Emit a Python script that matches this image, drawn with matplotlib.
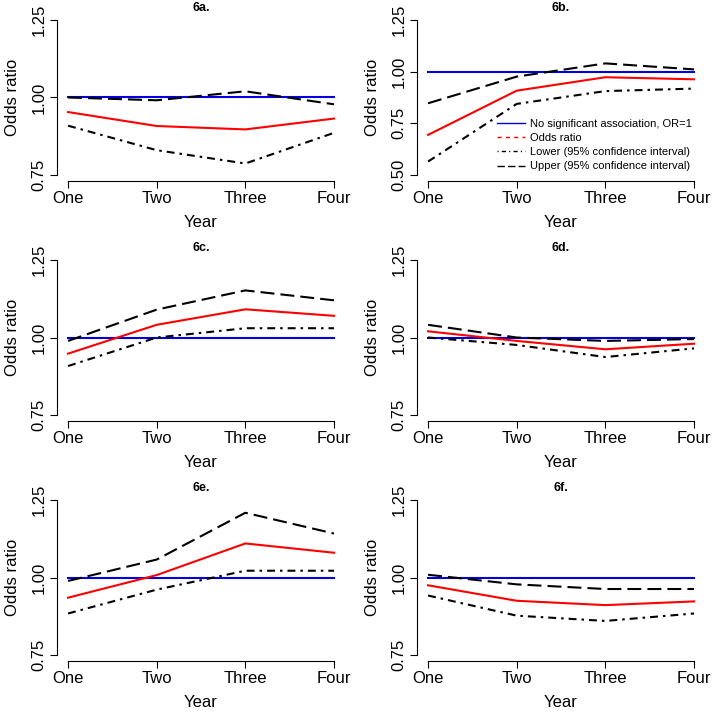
"""
Odds ratio by year, six panels (6a-6f), R base-graphics look.
"""

import matplotlib
matplotlib.use("Agg")
import matplotlib.pyplot as plt
from matplotlib.lines import Line2D

plt.rcParams["font.family"] = ["Liberation Sans", "DejaVu Sans"]

years = ["One", "Two", "Three", "Four"]
x = [1, 2, 3, 4]

panel_titles = ["6a.", "6b.", "6c.", "6d.", "6e.", "6f."]

# odds ratio (red), lower / upper 95% CI (black)
or_a    = [0.953, 0.908, 0.897, 0.932]
lower_a = [0.909, 0.830, 0.787, 0.886]
upper_a = [1.000, 0.991, 1.020, 0.978]

or_b    = [0.694, 0.908, 0.973, 0.963]
lower_b = [0.565, 0.844, 0.906, 0.918]
upper_b = [0.847, 0.976, 1.040, 1.011]

or_c    = [0.948, 1.041, 1.091, 1.070]
lower_c = [0.908, 1.000, 1.030, 1.030]
upper_c = [0.989, 1.090, 1.152, 1.120]

or_d    = [1.020, 0.989, 0.962, 0.980]
lower_d = [1.000, 0.976, 0.937, 0.965]
upper_d = [1.041, 1.000, 0.989, 0.995]

or_e    = [0.935, 1.008, 1.110, 1.080]
lower_e = [0.884, 0.961, 1.022, 1.022]
upper_e = [0.989, 1.058, 1.209, 1.142]

or_f    = [0.975, 0.925, 0.911, 0.923]
lower_f = [0.942, 0.877, 0.860, 0.884]
upper_f = [1.009, 0.978, 0.963, 0.963]

panels = [
    (or_a, lower_a, upper_a, [0.75, 1.00, 1.25]),
    (or_b, lower_b, upper_b, [0.50, 0.75, 1.00, 1.25]),
    (or_c, lower_c, upper_c, [0.75, 1.00, 1.25]),
    (or_d, lower_d, upper_d, [0.75, 1.00, 1.25]),
    (or_e, lower_e, upper_e, [0.75, 1.00, 1.25]),
    (or_f, lower_f, upper_f, [0.75, 1.00, 1.25]),
]

BLUE = "#0000e0"
RED = "#ff0000"
LW = 1.5
UPPER_DASH = (6.7, 2.9)
LOWER_DASH = (3.8, 2.4, 1.2, 2.4)

fig = plt.figure(figsize=(7.15, 7.15), dpi=100)

lefts = [0.0803, 0.5838]
bottoms = [0.7466, 0.4109, 0.0752]
w, h = 0.4017, 0.2341

axes = []
for i, (odds, lower, upper, yticks) in enumerate(panels):
    row, col = divmod(i, 2)
    ax = fig.add_axes([lefts[col], bottoms[row], w, h])
    axes.append(ax)

    ax.plot(x, [1.0] * len(x), color=BLUE, lw=LW, zorder=2)
    ax.plot(x, upper, color="black", lw=LW, dashes=UPPER_DASH, zorder=3)
    ax.plot(x, lower, color="black", lw=LW, dashes=LOWER_DASH, zorder=3)
    ax.plot(x, odds, color=RED, lw=LW, zorder=4)

    lo, hi = yticks[0], yticks[-1]
    pad = 0.04 * (hi - lo)
    ax.set_ylim(lo - pad, hi + pad)
    ax.set_xlim(1 - 0.12, 4 + 0.12)

    for side in ("top", "right"):
        ax.spines[side].set_visible(False)
    ax.spines["left"].set_bounds(lo, hi)
    ax.spines["bottom"].set_bounds(1, 4)
    ax.spines["left"].set_linewidth(0.8)
    ax.spines["bottom"].set_linewidth(0.8)

    ax.set_xticks(x)
    ax.set_xticklabels(years)
    ax.set_yticks(yticks)
    ax.set_yticklabels([f"{v:.2f}" for v in yticks], rotation=90, va="center")
    ax.tick_params(direction="out", length=5, width=0.8, labelsize=12)
    ax.tick_params(axis="x", pad=2)
    ax.tick_params(axis="y", pad=3)

    ax.set_xlabel("Year", fontsize=12)
    ax.set_ylabel("Odds ratio", fontsize=12)
    ax.xaxis.set_label_coords(0.5, -0.20)
    ax.yaxis.set_label_coords(-0.13, 0.5)
    ax.set_title(panel_titles[i], fontsize=9, fontweight="bold", pad=1.5)

handles = [
    Line2D([], [], color=BLUE, lw=1.0),
    Line2D([], [], color=RED, lw=1.0, dashes=(3.0, 3.0)),
    Line2D([], [], color="black", lw=1.0, dashes=(0.8, 2.3, 3.0, 2.3)),
    Line2D([], [], color="black", lw=1.0, dashes=(5.3, 2.3)),
]
labels = [
    "No significant association, OR=1",
    "Odds ratio",
    "Lower (95% confidence interval)",
    "Upper (95% confidence interval)",
]
axes[1].legend(handles, labels, loc="upper left", bbox_to_anchor=(0.277, 0.373),
               frameon=False, fontsize=8, borderpad=0, borderaxespad=0,
               handlelength=2.5, handletextpad=0.45, labelspacing=0.38)

fig.savefig("out.png", dpi=100)
plt.close(fig)
